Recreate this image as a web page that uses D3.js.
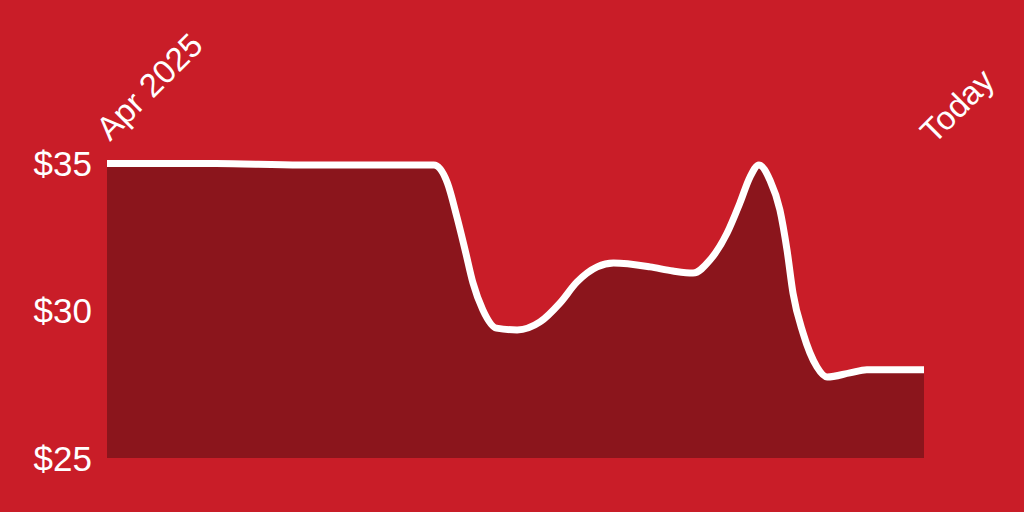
<!DOCTYPE html>
<html><head><meta charset="utf-8">
<script src="https://cdn.jsdelivr.net/npm/d3@7"></script>
<style>
html,body{margin:0;padding:0;background:#c91d28;}
svg{display:block;}
text{font-family:"Liberation Sans",Arial,Helvetica,sans-serif;fill:#fff;}
</style></head>
<body>
<svg id="chart" width="1024" height="512"></svg>
<script>
// Days since Apr 1 2025 and price (USD)
const days   = [0, 40, 71, 120, 125, 128.5, 131.5, 134.4, 138, 143, 150.6, 159, 166.3, 172.6, 180, 186, 199.4, 207.8, 215.2, 221.4, 227.7, 232.4, 236.1, 239.4, 243.4, 247.1, 249.7, 251.9, 255.6, 260.7, 264.4, 272.8, 279, 300];
const prices = [35.0, 35.0, 34.95, 34.95, 34.34, 33.18, 32.06, 30.94, 30.03, 29.41, 29.35, 29.62, 30.26, 30.98, 31.49, 31.62, 31.49, 31.35, 31.28, 31.72, 32.64, 33.66, 34.54, 34.95, 34.44, 33.42, 32.06, 30.6, 29.24, 28.09, 27.75, 27.89, 28.0, 28.0];
const yTicks = [35, 30, 25];
const xLabels = ["Apr 2025", "Today"];
const xLabelDays = [0, 300];

const data = days.map((d, i) => ({d, p: prices[i]}));
const svg = d3.select("#chart");
const x = d3.scaleLinear().domain([0, 300]).range([107, 924]);
const y = d3.scaleLinear().domain([25, 35]).range([458, 163.5]);

const curve = d3.curveMonotoneX;
const area = d3.area().x(d => x(d.d)).y0(y(25)).y1(d => y(d.p)).curve(curve);
const line = d3.line().x(d => x(d.d)).y(d => y(d.p)).curve(curve);

svg.append("path").datum(data).attr("d", area).attr("fill", "#8b151c");
svg.append("path").datum(data).attr("d", line).attr("fill", "none")
  .attr("stroke", "#fff").attr("stroke-width", 7).attr("stroke-linejoin", "round");

svg.append("g").selectAll("text").data(yTicks).join("text")
  .attr("x", 92).attr("y", d => y(d)).attr("dy", "0.36em")
  .attr("text-anchor", "end").attr("font-size", 35).text(d => "$" + d);

const labelDx = [3, 10], labelY = [142, 145];
svg.append("g").selectAll("text").data(xLabels).join("text")
  .attr("transform", (d, i) => `translate(${x(xLabelDays[i]) + labelDx[i]},${labelY[i]}) rotate(-45)`)
  .attr("text-anchor", "start").attr("font-size", 33).text(d => d);
</script>
</body></html>
